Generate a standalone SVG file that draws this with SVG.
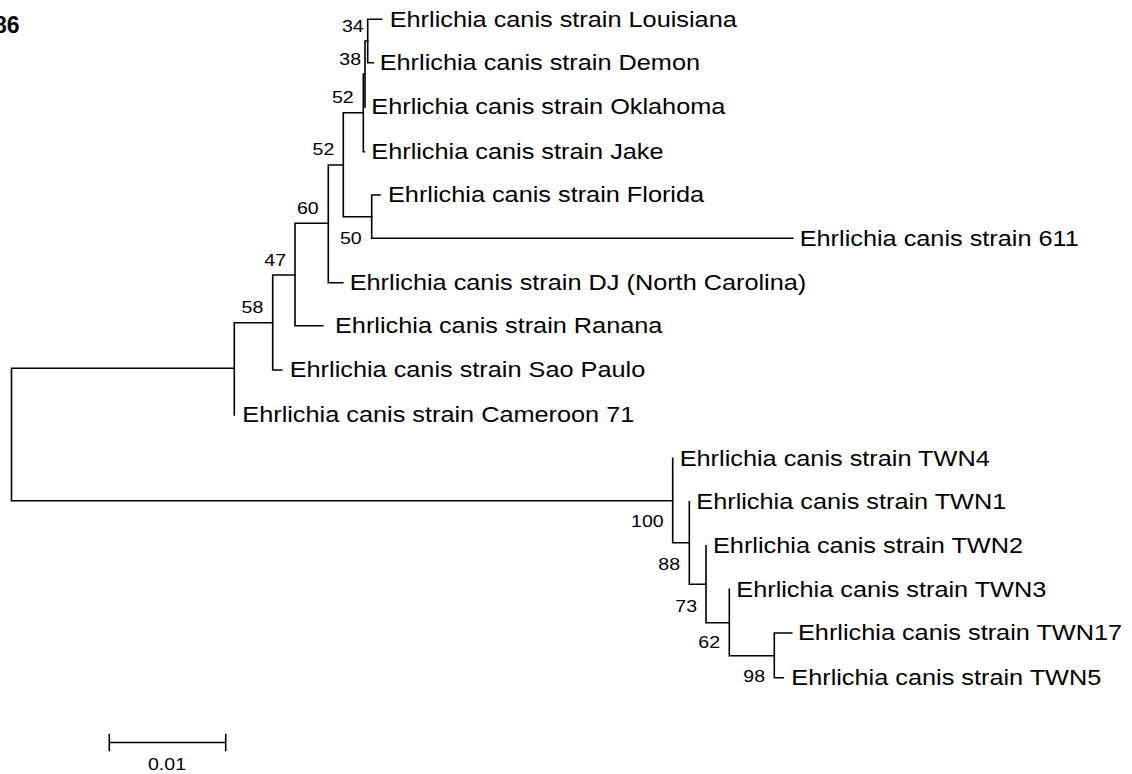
<svg xmlns="http://www.w3.org/2000/svg" width="1132" height="774" viewBox="0 0 1132 774">
<style>
.br{fill:none;stroke:#000;stroke-width:1.6;stroke-linecap:square}
.lf{font-family:"Liberation Sans",Arial,sans-serif;font-size:22px;fill:#000}
.bs{font-family:"Liberation Sans",Arial,sans-serif;font-size:17px;fill:#000;text-anchor:end}
.sc{font-family:"Liberation Sans",Arial,sans-serif;font-size:17px;fill:#000;text-anchor:middle}
.fig{font-family:"Liberation Sans",Arial,sans-serif;font-size:23px;font-weight:bold;fill:#000;text-anchor:end}
</style>
<rect width="1132" height="774" fill="#fff"/>
<text class="fig" x="19.5" y="33.3">86</text>
<g id="connectors">
<path class="br" d="M11.5,368.3V500.7M11.5,368.3H234.3M11.5,500.7H672.7"/>
<path class="br" d="M234.3,322.7V415M234.3,322.7H272.7"/>
<path class="br" d="M272.7,275V370M272.7,275H295M272.7,370H281.7"/>
<path class="br" d="M295,223.3V325.7M295,223.3H328.3M295,325.7H322.7"/>
<path class="br" d="M328.3,165V282.7M328.3,165H343.3M328.3,282.7H342.7"/>
<path class="br" d="M343.3,112.7V216.7M343.3,112.7H363.3M343.3,216.7H371.7"/>
<path class="br" d="M371.7,195V238.3M371.7,195H380M371.7,238.3H792.7"/>
<path class="br" d="M363.3,74V151.7M363.3,74H365M363.3,151.7H364.3"/>
<path class="br" d="M365,41V107M365,41H367.7"/>
<path class="br" d="M367.7,19.3V62.7M367.7,19.3H381.7M367.7,62.7H373.3"/>
<path class="br" d="M672.7,458.3V542.7M672.7,542.7H689.3"/>
<path class="br" d="M689.3,501.7V584.3M689.3,584.3H706"/>
<path class="br" d="M706,545.7V622.7M706,622.7H729.3"/>
<path class="br" d="M729.3,589.3V655.7M729.3,655.7H774.3"/>
<path class="br" d="M774.3,633V677.7M774.3,633H791.7M774.3,677.7H783.3"/>
</g>
<g id="leaf-louisiana"><text class="lf" transform="translate(389.7,26.5) scale(1.15,1)">Ehrlichia canis strain Louisiana</text></g>
<g id="leaf-demon"><text class="lf" transform="translate(379.7,69.9) scale(1.15,1)">Ehrlichia canis strain Demon</text></g>
<g id="leaf-oklahoma"><text class="lf" transform="translate(371.3,114.2) scale(1.15,1)">Ehrlichia canis strain Oklahoma</text></g>
<g id="leaf-jake"><text class="lf" transform="translate(371.3,158.9) scale(1.15,1)">Ehrlichia canis strain Jake</text></g>
<g id="leaf-florida"><text class="lf" transform="translate(388,202.2) scale(1.15,1)">Ehrlichia canis strain Florida</text></g>
<g id="leaf-611"><text class="lf" transform="translate(799.7,245.5) scale(1.15,1)">Ehrlichia canis strain 611</text></g>
<g id="leaf-dj"><text class="lf" transform="translate(349.7,289.9) scale(1.15,1)">Ehrlichia canis strain DJ (North Carolina)</text></g>
<g id="leaf-ranana"><text class="lf" transform="translate(335,332.9) scale(1.15,1)">Ehrlichia canis strain Ranana</text></g>
<g id="leaf-saopaulo"><text class="lf" transform="translate(289.7,377.2) scale(1.15,1)">Ehrlichia canis strain Sao Paulo</text></g>
<g id="leaf-cameroon"><text class="lf" transform="translate(242.3,422.2) scale(1.15,1)">Ehrlichia canis strain Cameroon 71</text></g>
<g id="leaf-twn4"><text class="lf" transform="translate(679.7,465.5) scale(1.15,1)">Ehrlichia canis strain TWN4</text></g>
<g id="leaf-twn1"><text class="lf" transform="translate(696.3,508.9) scale(1.15,1)">Ehrlichia canis strain TWN1</text></g>
<g id="leaf-twn2"><text class="lf" transform="translate(713,552.9) scale(1.15,1)">Ehrlichia canis strain TWN2</text></g>
<g id="leaf-twn3"><text class="lf" transform="translate(736.3,596.5) scale(1.15,1)">Ehrlichia canis strain TWN3</text></g>
<g id="leaf-twn17"><text class="lf" transform="translate(798,640.2) scale(1.15,1)">Ehrlichia canis strain TWN17</text></g>
<g id="leaf-twn5"><text class="lf" transform="translate(791.3,684.9) scale(1.15,1)">Ehrlichia canis strain TWN5</text></g>
<g id="node-34"><text class="bs" transform="translate(363.7,32.3) scale(1.15,1)">34</text></g>
<g id="node-38"><text class="bs" transform="translate(361,65) scale(1.15,1)">38</text></g>
<g id="node-52a"><text class="bs" transform="translate(353.7,102.7) scale(1.15,1)">52</text></g>
<g id="node-52b"><text class="bs" transform="translate(334.3,155) scale(1.15,1)">52</text></g>
<g id="node-60"><text class="bs" transform="translate(318.7,214) scale(1.15,1)">60</text></g>
<g id="node-50"><text class="bs" transform="translate(361.7,244) scale(1.15,1)">50</text></g>
<g id="node-47"><text class="bs" transform="translate(286,266) scale(1.15,1)">47</text></g>
<g id="node-58"><text class="bs" transform="translate(263.3,313.3) scale(1.15,1)">58</text></g>
<g id="node-100"><text class="bs" transform="translate(663.7,527.3) scale(1.15,1)">100</text></g>
<g id="node-88"><text class="bs" transform="translate(680,570) scale(1.15,1)">88</text></g>
<g id="node-73"><text class="bs" transform="translate(697,611.7) scale(1.15,1)">73</text></g>
<g id="node-62"><text class="bs" transform="translate(720,648.3) scale(1.15,1)">62</text></g>
<g id="node-98"><text class="bs" transform="translate(765,681.7) scale(1.15,1)">98</text></g>
<g id="scale-bar">
<path class="br" d="M109.3,742.5H225.7M109.3,734.5V750.5M225.7,734.5V750.5"/>
<text class="sc" transform="translate(167,770) scale(1.15,1)">0.01</text>
</g>
</svg>
